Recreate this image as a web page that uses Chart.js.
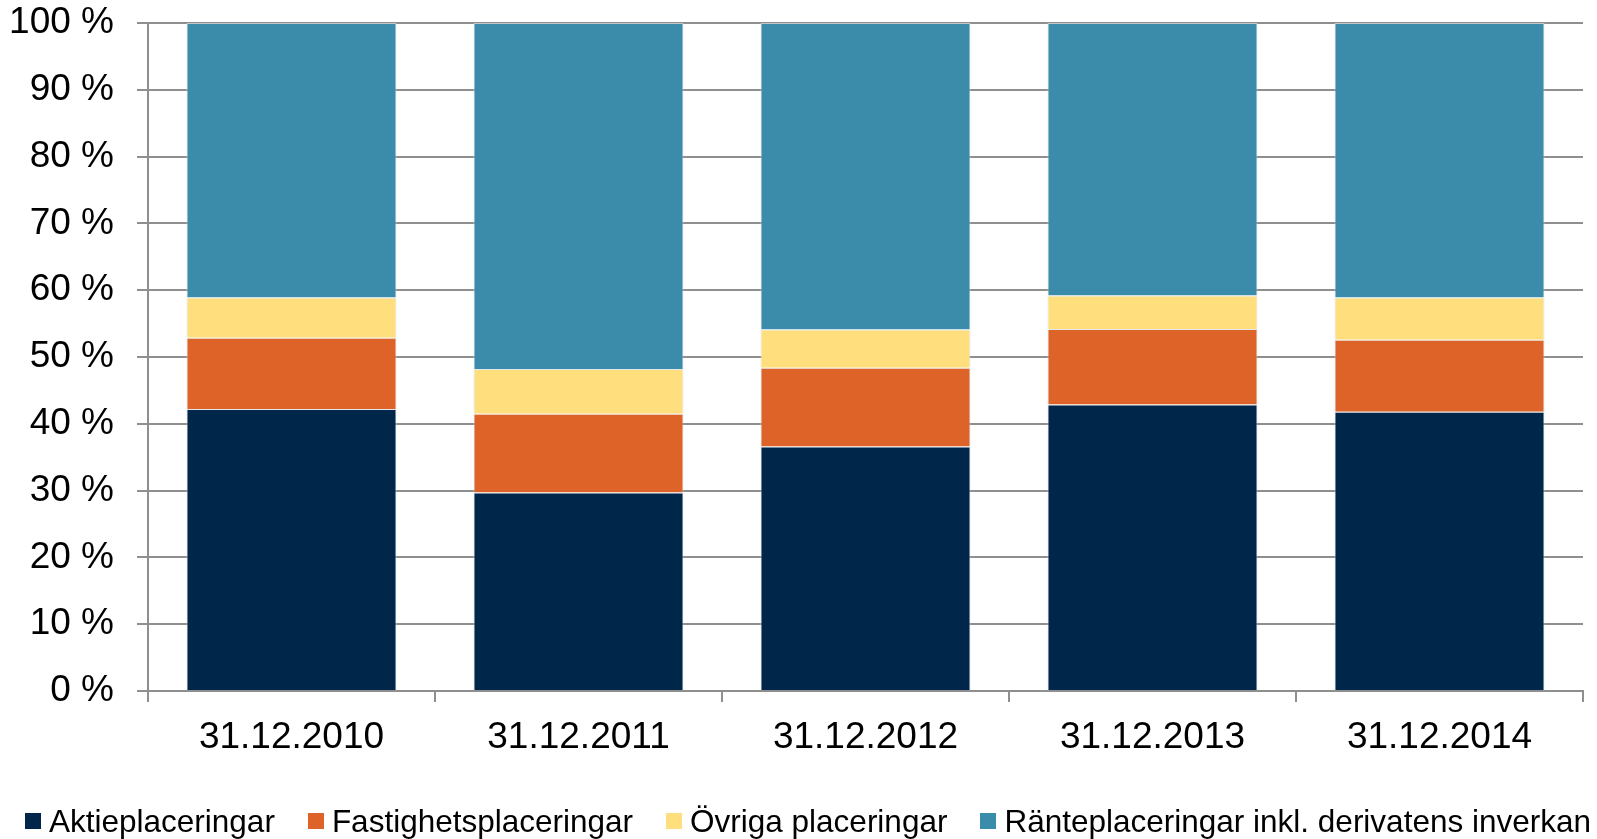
<!DOCTYPE html>
<html lang="sv">
<head>
<meta charset="utf-8">
<script src="https://cdn.jsdelivr.net/npm/chart.js@4"></script>
<style>
    html, body { margin: 0; padding: 0; background: #fff; overflow: hidden; }
    #wrap { position: relative; width: 1597px; height: 839px; }
    #legend {
        position: absolute; left: 25px; top: 805px;
        display: flex; align-items: center; gap: 33px;
        font-family: "Liberation Sans", Arial, sans-serif; font-size: 31.5px; line-height: 32px;
        color: #000; white-space: nowrap;
    }
    #legend .item { display: flex; align-items: center; }
    #legend .box { width: 16px; height: 16px; margin-right: 8px; }
</style>
</head>
<body>
<div id="wrap">
    <canvas id="graficoPlaceringar" width="1597" height="839"></canvas>
    <div id="legend"></div>
</div>
<script>
const kategorier = ['31.12.2010', '31.12.2011', '31.12.2012', '31.12.2013', '31.12.2014'];

const aktieplaceringar = [42.2, 29.7, 36.6, 42.9, 41.8];
const fastighetsplaceringar = [10.7, 11.8, 11.8, 11.3, 10.8];
const ovrigaPlaceringar = [6.0, 6.7, 5.7, 5.0, 6.3];
const ranteplaceringar = [41.1, 51.8, 45.9, 40.8, 41.1];

const serier = ['Aktieplaceringar', 'Fastighetsplaceringar', 'Övriga placeringar', 'Ränteplaceringar inkl. derivatens inverkan'];
const farger = ['#00264A', '#DE6329', '#FEDE7D', '#3A8CAA'];

const yMax = 100;
const ySteg = 10;

document.addEventListener('DOMContentLoaded', () => {
    ritaDiagram();
    ritaLegend();
});

function ritaDiagram() {
    const ctx = document.getElementById('graficoPlaceringar').getContext('2d');
    const varden = [aktieplaceringar, fastighetsplaceringar, ovrigaPlaceringar, ranteplaceringar];
    const gridFarg = '#8f8f8f';

    new Chart(ctx, {
        type: 'bar',
        data: {
            labels: kategorier,
            datasets: serier.map((namn, i) => ({
                label: namn,
                data: varden[i],
                backgroundColor: farger[i],
                borderColor: 'rgba(215, 222, 230, 0.7)',
                borderWidth: 1,
                categoryPercentage: 1,
                barPercentage: 0.732
            }))
        },
        options: {
            responsive: false,
            animation: false,
            layout: { padding: { top: 23, right: 14, left: 0, bottom: 0 } },
            plugins: {
                legend: { display: false },
                tooltip: { enabled: false }
            },
            scales: {
                x: {
                    stacked: true,
                    afterFit: (s) => { s.height = 148; },
                    grid: {
                        offset: true,
                        drawOnChartArea: false,
                        drawTicks: true,
                        tickLength: 11,
                        color: gridFarg,
                        lineWidth: 2
                    },
                    border: { color: gridFarg, width: 2 },
                    ticks: {
                        color: '#000',
                        padding: 14,
                        font: { family: "'Liberation Sans', Arial, sans-serif", size: 37 }
                    }
                },
                y: {
                    stacked: true,
                    min: 0,
                    max: yMax,
                    afterFit: (s) => { s.width = 148; s.paddingTop = 0; s.paddingBottom = 0; },
                    grid: {
                        color: gridFarg,
                        lineWidth: 2,
                        tickLength: 11
                    },
                    border: { color: gridFarg, width: 2 },
                    ticks: {
                        stepSize: ySteg,
                        color: '#000',
                        padding: 23,
                        font: { family: "'Liberation Sans', Arial, sans-serif", size: 37 },
                        callback: (v) => v + ' %'
                    }
                }
            }
        }
    });
}

function ritaLegend() {
    const legend = document.getElementById('legend');
    legend.innerHTML = serier.map((namn, i) => `
        <div class="item"><span class="box" style="background:${farger[i]}"></span><span>${namn}</span></div>
    `).join('');
}
</script>
</body>
</html>
